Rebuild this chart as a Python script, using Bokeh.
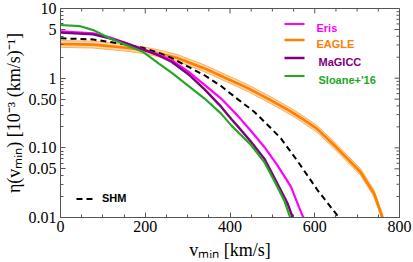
import numpy as np
from bokeh.plotting import figure
from bokeh.models import FixedTicker, Legend, LegendItem, Label, Arrow
from bokeh.embed import file_html
from bokeh.resources import INLINE

# ---------------- data ----------------
v_eris = [0, 77, 116, 155, 194, 233, 262, 301, 340, 379, 403, 418, 446, 481, 512, 544, 563, 573]
eta_eris = [4.7, 4.4, 3.85, 3.2, 2.6, 2.15, 1.82, 1.25, 0.80, 0.51, 0.36, 0.29, 0.185, 0.103, 0.056, 0.0275, 0.014, 0.01]

v_eagle = [0, 77, 155, 194, 233, 276, 340, 418, 442, 497, 544, 567, 604, 646, 677, 708, 740, 760]
eta_eagle = [3.1, 3.03, 2.73, 2.53, 2.26, 1.95, 1.38, 0.84, 0.72, 0.48, 0.33, 0.27, 0.19, 0.109, 0.07, 0.045, 0.022, 0.01]
eagle_band = 0.12  # relative half-width of the EAGLE band

v_magicc = [0, 77, 116, 155, 194, 233, 262, 301, 340, 379, 403, 418, 450, 481, 512, 536, 548]
eta_magicc = [4.5, 4.25, 3.73, 3.15, 2.59, 2.1, 1.72, 1.15, 0.69, 0.39, 0.26, 0.205, 0.121, 0.07, 0.0305, 0.0158, 0.01]

v_sloane = [0, 45, 77, 116, 155, 194, 233, 262, 301, 340, 379, 403, 450, 481, 504, 528, 542]
eta_sloane = [5.8, 5.6, 4.9, 3.75, 3.0, 2.4, 1.6, 1.2, 0.78, 0.51, 0.31, 0.21, 0.109, 0.0625, 0.034, 0.0176, 0.01]

v_shm = [0, 77, 155, 194, 233, 262, 301, 340, 379, 418, 457, 497, 520, 559, 606, 657]
eta_shm = [3.73, 3.6, 3.05, 2.73, 2.3, 1.95, 1.46, 1.10, 0.77, 0.5, 0.33, 0.19, 0.137, 0.065, 0.025, 0.01]

series_names = ["Eris", "EAGLE", "MaGICC", "Sloane+'16"]

x_ticks = [0, 200, 400, 600, 800]
x_minor = [50, 100, 150, 250, 300, 350, 450, 500, 550, 650, 700, 750]
y_ticks = [0.01, 0.05, 0.1, 0.5, 1, 5, 10]
y_tick_labels = ["0.01", "0.05", "0.10", "0.50", "1", "5", "10"]
y_minor = [0.02, 0.03, 0.04, 0.06, 0.07, 0.08, 0.09,
           0.2, 0.3, 0.4, 0.6, 0.7, 0.8, 0.9,
           2, 3, 4, 6, 7, 8, 9]
x_title = "v\u2098\u1d62\u2099 [km/s]"
y_title = "\u03b7(v\u2098\u1d62\u2099) [10\u207b\u00b3 (km/s)\u207b\u00b9]"

# ---------------- styles ----------------
C_ERIS = "#ff00ff"
C_EAGLE = "#ff8000"
C_MAGICC = "#800080"
C_SLOANE = "#22a822"
FRAME = "#555555"
SERIF = "Liberation Serif"
SANS = "Liberation Sans"

W, H = 413, 262
BL, BR, BT, BB = 59, 14, 8, 45
FW, FH = W - BL - BR, H - BT - BB
X0, X1 = 0, 800
Y0, Y1 = 0.01, 10

p = figure(width=W, height=H, x_range=(X0, X1), y_range=(Y0, Y1),
           y_axis_type="log", output_backend="svg", toolbar_location=None,
           min_border_left=BL, min_border_right=BR, min_border_top=BT,
           min_border_bottom=BB)
p.xgrid.visible = False
p.ygrid.visible = False
p.outline_line_color = FRAME
p.outline_line_width = 1
p.background_fill_color = "white"
p.border_fill_color = "white"

p.xaxis.ticker = FixedTicker(ticks=x_ticks, minor_ticks=x_minor)
p.yaxis.ticker = FixedTicker(ticks=y_ticks, minor_ticks=y_minor)
p.yaxis.major_label_overrides = {t: s for t, s in zip(y_ticks, y_tick_labels)}
for ax in (p.xaxis[0], p.yaxis[0]):
    ax.axis_line_color = FRAME
    ax.major_tick_line_color = FRAME
    ax.minor_tick_line_color = FRAME
    ax.major_tick_in = 5
    ax.major_tick_out = 0
    ax.minor_tick_in = 3
    ax.minor_tick_out = 0
    ax.major_label_text_font = SERIF
    ax.major_label_text_font_size = "16px"
    ax.major_label_text_color = "black"
    ax.axis_label_text_font = SERIF
    ax.axis_label_text_font_size = "18px"
    ax.axis_label_text_font_style = "normal"
    ax.axis_label_text_color = "black"
p.xaxis.major_label_standoff = 3
p.yaxis.major_label_standoff = 4
p.xaxis.axis_label = x_title
p.yaxis.axis_label = y_title
p.xaxis.axis_label_standoff = 5
p.yaxis.axis_label_standoff = 2

# mirrored inward ticks on the right and top frame edges
def tick_len_x(px):
    return px * (X1 - X0) / FW


def tick_fac_y(px):
    return 10 ** (-px * (np.log10(Y1) - np.log10(Y0)) / FH)


for ticks, L in ((y_ticks, 5), (y_minor, 3)):
    p.segment(x0=[X1] * len(ticks), x1=[X1 - tick_len_x(L)] * len(ticks),
              y0=ticks, y1=ticks, line_color=FRAME, line_width=1)
for ticks, L in ((x_ticks, 5), (x_minor, 3)):
    p.segment(x0=ticks, x1=ticks, y0=[Y1] * len(ticks),
              y1=[Y1 * tick_fac_y(L)] * len(ticks), line_color=FRAME, line_width=1)

# ---------------- glyphs ----------------
ve = np.array(v_eagle, dtype=float)
ee = np.array(eta_eagle, dtype=float)
p.varea(x=ve, y1=ee / (1 + eagle_band), y2=ee * (1 + eagle_band),
        fill_color="#ffc58a", fill_alpha=0.75)
p.line(ve, ee * (1 + eagle_band), line_color="#ffa040", line_width=0.8)
p.line(ve, ee / (1 + eagle_band), line_color="#ffa040", line_width=0.8)
r_eagle = p.line(v_eagle, eta_eagle, line_color=C_EAGLE, line_width=2.6)
r_shm = p.line(v_shm, eta_shm, line_color="black", line_width=2.0, line_dash="6 4")
r_eris = p.line(v_eris, eta_eris, line_color=C_ERIS, line_width=2.2)
r_magicc = p.line(v_magicc, eta_magicc, line_color=C_MAGICC, line_width=2.4)
r_sloane = p.line(v_sloane, eta_sloane, line_color=C_SLOANE, line_width=2.2)

# ---------------- key, top right: coloured key lines + coloured labels ----------------
# (screen units, measured from the frame's bottom-left corner)
key_rows = [FH - 15.5, FH - 31.5, FH - 49.5, FH - 67.5]
key_text_x = [256, 256, 258, 258]
key_colors = [C_ERIS, C_EAGLE, C_MAGICC, C_SLOANE]
key_widths = [2.2, 2.6, 2.4, 2.2]
for name, yc, tx, col, lw in zip(series_names, key_rows, key_text_x, key_colors, key_widths):
    p.add_layout(Arrow(start=None, end=None, x_start=224, y_start=yc, x_end=244, y_end=yc,
                       start_units="screen", end_units="screen",
                       line_color=col, line_width=lw))
    p.add_layout(Label(x=tx, y=yc - 4, x_units="screen", y_units="screen", text=name,
                       text_font=SANS, text_font_style="bold", text_font_size="11px",
                       text_color=col, text_align="left", text_baseline="alphabetic"))

# SHM key, bottom left
lg = Legend(items=[LegendItem(label="SHM", renderers=[r_shm])],
            location=(16, 12.5), orientation="vertical",
            padding=0, margin=0, spacing=0, glyph_width=17, glyph_height=13,
            label_height=13, label_standoff=9,
            label_text_font=SANS, label_text_font_style="bold",
            label_text_font_size="11px", label_text_color="black",
            border_line_color=None, background_fill_alpha=0)
p.add_layout(lg, "center")

open("out.html", "w").write(file_html(p, INLINE))
